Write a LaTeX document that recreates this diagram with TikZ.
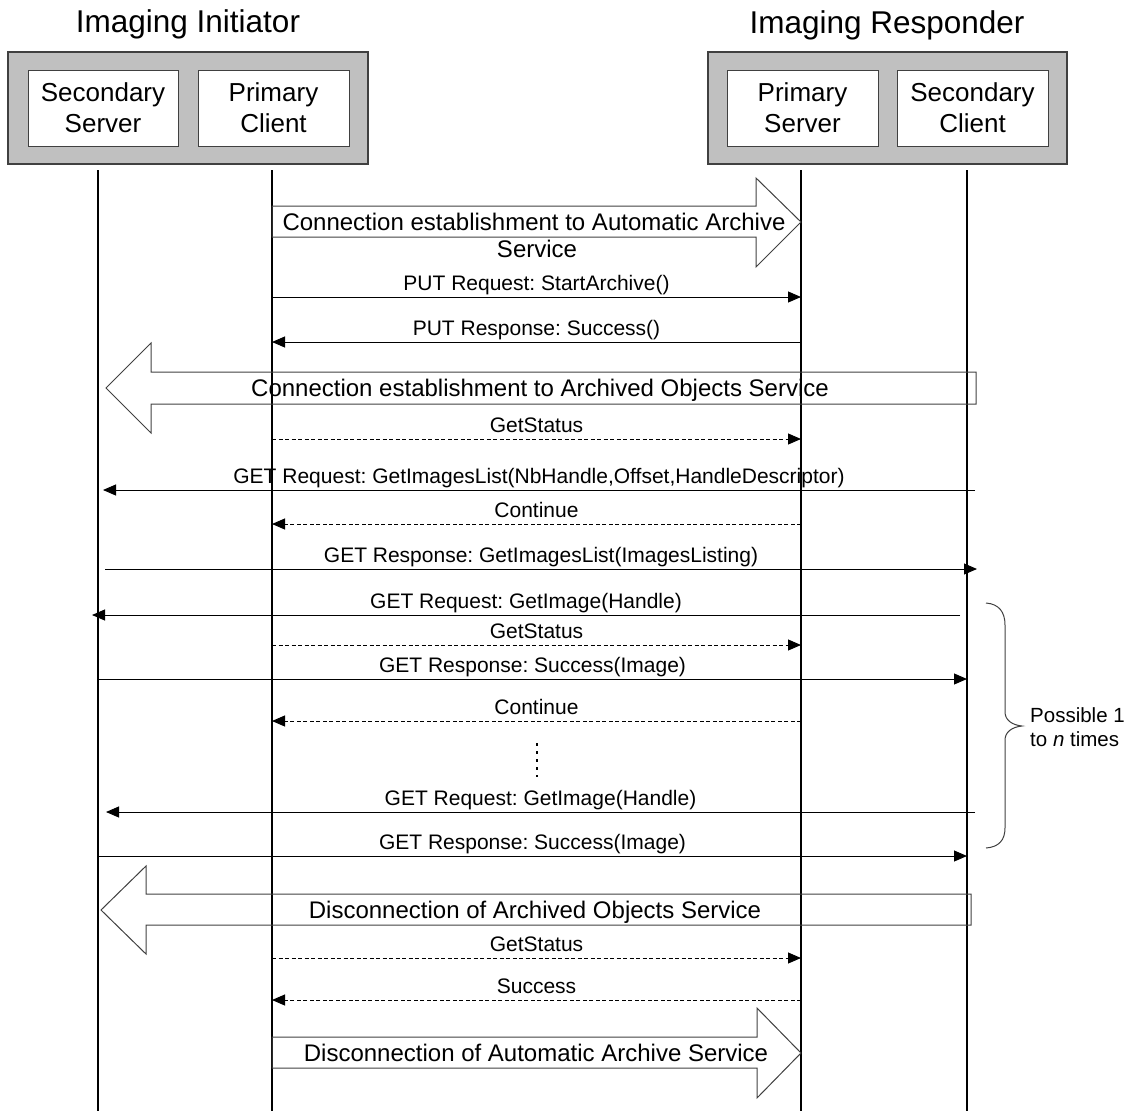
\documentclass[tikz,border=0pt]{standalone}
\usepackage{fontspec}
\setmainfont{Liberation Sans}
\usetikzlibrary{arrows.meta,calc}
\definecolor{boxgray}{RGB}{192,192,192}
\definecolor{bordergray}{RGB}{64,64,64}
\frenchspacing
\begin{document}
\frenchspacing
\begin{tikzpicture}[x=1pt,y=-1pt,
  grp/.style={draw=bordergray, line width=1.5pt, fill=boxgray, inner sep=0pt},
  box/.style={draw=bordergray, line width=1pt, fill=white, minimum width=151pt, minimum height=76pt, inner sep=0pt, align=center, font=\fontsize{26}{31}\selectfont},
  ttl/.style={anchor=base, inner sep=0pt, font=\fontsize{31.5}{37}\selectfont},
  life/.style={line width=1.5pt, black},
  msg/.style={line width=1pt, black, -{Triangle[length=13pt,width=11pt]}},
  ret/.style={msg, dash pattern=on 4pt off 2.5pt},
  lab/.style={anchor=base, yshift=7pt, inner sep=0pt, font=\fontsize{21}{25}\selectfont},
  blk/.style={draw=bordergray, line width=1pt},
  blktxt/.style={anchor=base, inner sep=0pt, font=\fontsize{24}{28}\selectfont},
]
\useasboundingbox (0,0) rectangle (1143,1111);

% titles
\node[ttl] (tI) at (188,32) {Imaging Initiator};
\node[ttl] (tR) at (887,33) {Imaging Responder};

% group boxes
\node[grp, minimum width=360pt, minimum height=112pt] (gI) at (188,108) {};
\node[grp, minimum width=359pt, minimum height=112pt] (gR) at (887.5,108) {};
\node[box, minimum width=150pt] (ssbox) at (103,108) {Secondary\\Server};
\node[box] (pcbox) at (273.5,108) {Primary\\Client};
\node[box] (psbox) at (802.5,108) {Primary\\Server};
\node[box] (scbox) at (972.5,108) {Secondary\\Client};

% lifelines
\coordinate (SS) at (98,170);  \coordinate (SSb) at (98,1111);
\coordinate (PC) at (272,170); \coordinate (PCb) at (272,1111);
\coordinate (PS) at (801,170); \coordinate (PSb) at (801,1111);
\coordinate (SC) at (967,170); \coordinate (SCb) at (967,1111);
\draw[life] (SS) -- (SSb);
\draw[life] (PC) -- (PCb);
\draw[life] (PS) -- (PSb);
\draw[life] (SC) -- (SCb);

% block arrow 1
\draw[blk] (272,206) -- (756,206) -- (756,178) -- (801,222) -- (756,267) -- (756,237) -- (272,237) -- cycle;
\node[blktxt] (b1a) at (534,230) {Connection establishment to Automatic Archive};
\node[blktxt] (b1b) at (537,257) {Service};

% rows
\coordinate (r1) at (0,297);
\coordinate (r2) at (0,342);
\coordinate (r3) at (0,439);
\coordinate (r4) at (0,490);
\coordinate (r5) at (0,524);
\coordinate (r6) at (0,569);
\coordinate (r7) at (0,615);
\coordinate (r8) at (0,645);
\coordinate (r9) at (0,679);
\coordinate (r10) at (0,721);
\coordinate (r11) at (0,812);
\coordinate (r12) at (0,856);
\coordinate (r13) at (0,958);
\coordinate (r14) at (0,1000);

\draw[msg] (PC |- r1) -- node[lab]{PUT Request: StartArchive()} (PS |- r1);
\draw[msg] (PS |- r2) -- node[lab]{PUT Response: Success()} (PC |- r2);

% block arrow 2
\draw[blk] (976,372) -- (151,372) -- (151,343) -- (106,388) -- (151,433) -- (151,404) -- (976,404) -- cycle;
\node[blktxt] (b2) at (540,396) {Connection establishment to Archived Objects Service};

\draw[ret] (PC |- r3) -- node[lab]{GetStatus} (PS |- r3);
\draw[msg] ($(SC |- r4)+(8,0)$) -- node[lab]{GET Request: GetImagesList(NbHandle,Offset,HandleDescriptor)} ($(SS |- r4)+(5,0)$);
\draw[ret] (PS |- r5) -- node[lab]{Continue} (PC |- r5);
\draw[msg] ($(SS |- r6)+(7,0)$) -- node[lab]{GET Response: GetImagesList(ImagesListing)} ($(SC |- r6)+(10,0)$);
\draw[msg] ($(SC |- r7)+(-7,0)$) -- node[lab]{GET Request: GetImage(Handle)} ($(SS |- r7)+(-6,0)$);
\draw[ret] (PC |- r8) -- node[lab]{GetStatus} (PS |- r8);
\draw[msg] (SS |- r9) -- node[lab]{GET Response: Success(Image)} (SC |- r9);
\draw[ret] (PS |- r10) -- node[lab]{Continue} (PC |- r10);
\draw[line width=1.8pt, dash pattern=on 2.5pt off 5.5pt] (537,743) -- (537,777);
\draw[msg] ($(SC |- r11)+(8,0)$) -- node[lab]{GET Request: GetImage(Handle)} ($(SS |- r11)+(8,0)$);
\draw[msg] (SS |- r12) -- node[lab]{GET Response: Success(Image)} (SC |- r12);

% brace
\draw[bordergray, line width=1pt] (986,603) .. controls (999,604) and (1005,612) .. (1005,625) -- (1005,712) .. controls (1005,720) and (1012,725) .. (1022,726) .. controls (1012,727) and (1005,732) .. (1005,740) -- (1005,828) .. controls (1005,840) and (999,847) .. (986,848);
\node[anchor=west, align=left, inner sep=0pt, font=\fontsize{20.5}{24}\selectfont] (rep) at (1030,727.5) {Possible 1\\to \textit{n} times};

% block arrow 3
\draw[blk] (971,894) -- (146,894) -- (146,866) -- (101,910) -- (146,954) -- (146,925) -- (971,925) -- cycle;
\node[blktxt] (b3) at (535,918) {Disconnection of Archived Objects Service};

\draw[ret] (PC |- r13) -- node[lab]{GetStatus} (PS |- r13);
\draw[ret] (PS |- r14) -- node[lab]{Success} (PC |- r14);

% block arrow 4
\draw[blk] (272,1037) -- (757,1037) -- (757,1008) -- (801,1053) -- (757,1098) -- (757,1068) -- (272,1068) -- cycle;
\node[blktxt] (b4) at (536,1061) {Disconnection of Automatic Archive Service};
\end{tikzpicture}
\end{document}
